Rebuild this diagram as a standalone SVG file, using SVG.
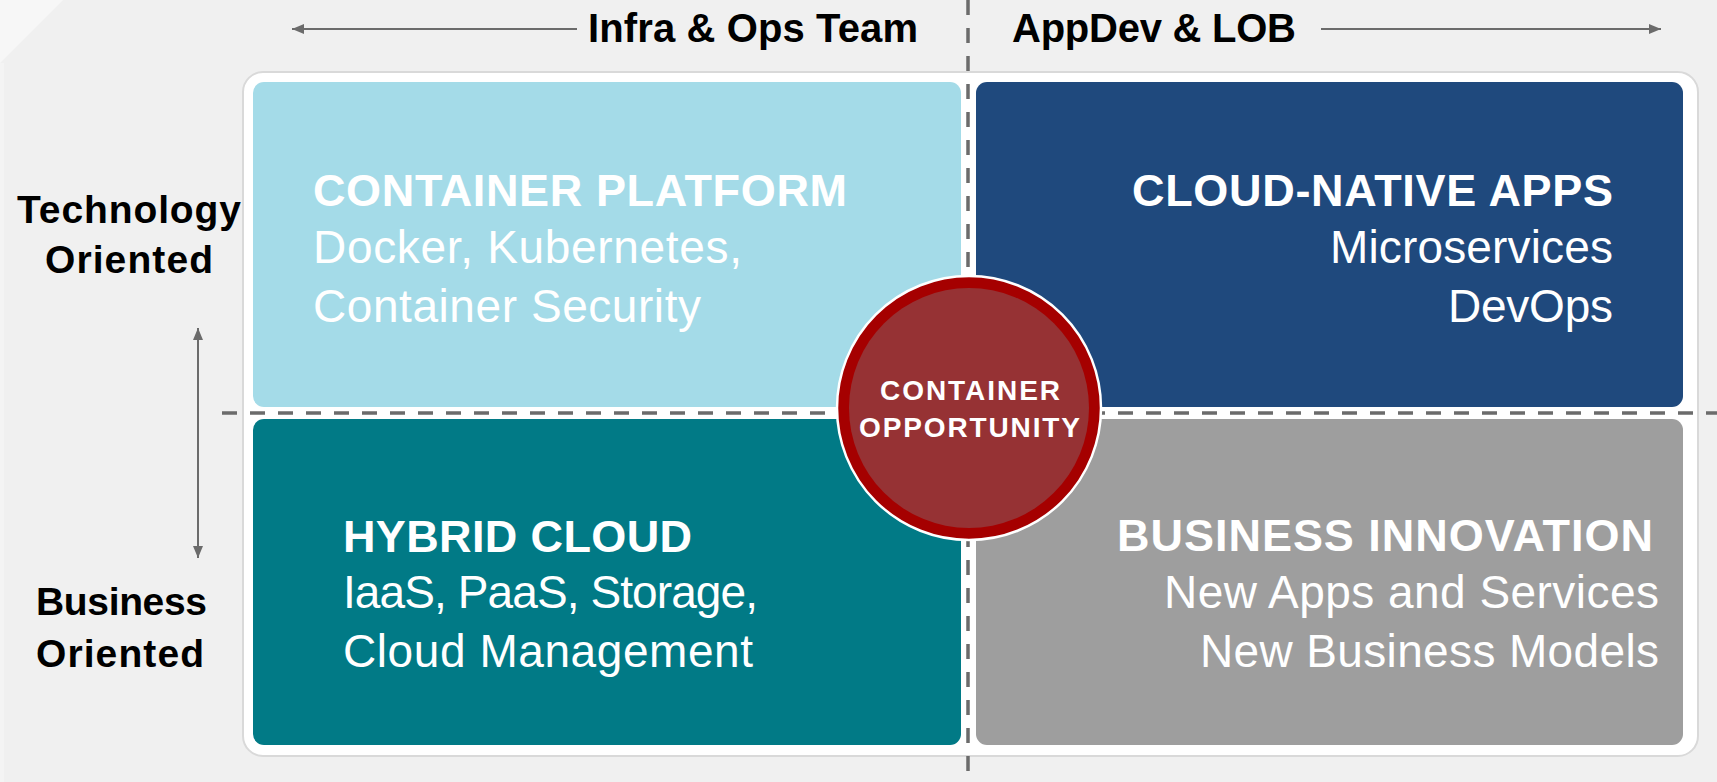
<svg xmlns="http://www.w3.org/2000/svg" width="1717" height="782" viewBox="0 0 1717 782">
  <defs>
    <marker id="arr" markerUnits="userSpaceOnUse" markerWidth="13" markerHeight="10" refX="12" refY="5" orient="auto-start-reverse">
      <path d="M0,0 L12,5 L0,10 Z" fill="#6b6b6b"/>
    </marker>
    <style>
      .hdr { font-family: "Liberation Sans", Arial, sans-serif; font-weight: bold; fill: #000; }
      .ttl { font-family: "Liberation Sans", Arial, sans-serif; font-weight: bold; font-size: 45px; fill: #fff; }
      .sub { font-family: "Liberation Sans", Arial, sans-serif; font-size: 46px; fill: #fff; }
      .ctr { font-family: "Liberation Sans", Arial, sans-serif; font-weight: bold; font-size: 28px; fill: #fff; }
      .axis { stroke: #6b6b6b; stroke-width: 2; fill: none; }
      .dash { stroke: #6b6b6b; stroke-width: 3.5; stroke-dasharray: 15 13; fill: none; }
    </style>
  </defs>

  <!-- background -->
  <rect x="0" y="0" width="1717" height="782" fill="#f0f0f0"/>
  <polygon points="0,0 63,0 0,63" fill="#f7f7f7"/>
  <rect x="0" y="63" width="4" height="719" fill="#f4f4f4"/>

  <!-- outer frame -->
  <rect x="243" y="72" width="1455" height="684" rx="20" ry="20" fill="#ffffff" stroke="#d9d9d9" stroke-width="2"/>

  <!-- axis labels -->
  <g id="label-infra">
    <text class="hdr" x="588" y="42" font-size="40" textLength="330">Infra &amp; Ops Team</text>
  </g>
  <g id="label-appdev">
    <text class="hdr" x="1012" y="42" font-size="40" textLength="284">AppDev &amp; LOB</text>
  </g>
  <g id="label-technology">
    <text class="hdr" x="17" y="223" font-size="39" textLength="224">Technology</text>
    <text class="hdr" x="45" y="273" font-size="39" textLength="168">Oriented</text>
  </g>
  <g id="label-business">
    <text class="hdr" x="36" y="615" font-size="39" textLength="171">Business</text>
    <text class="hdr" x="36" y="667" font-size="39" textLength="168">Oriented</text>
  </g>

  <!-- quadrants -->
  <g id="q-container-platform">
    <rect x="253" y="82" width="708" height="325" rx="11" ry="11" fill="#a4dbe8"/>
    <text class="ttl" x="313" y="206" textLength="534">CONTAINER PLATFORM</text>
    <text class="sub" x="313" y="263" textLength="429">Docker, Kubernetes,</text>
    <text class="sub" x="313" y="322" textLength="388">Container Security</text>
  </g>
  <g id="q-cloud-native">
    <rect x="976" y="82" width="707" height="325" rx="11" ry="11" fill="#1f497d"/>
    <text class="ttl" x="1132" y="206" textLength="481">CLOUD-NATIVE APPS</text>
    <text class="sub" x="1330" y="263" textLength="283">Microservices</text>
    <text class="sub" x="1448" y="322" textLength="165">DevOps</text>
  </g>
  <g id="q-hybrid-cloud">
    <rect x="253" y="419" width="708" height="326" rx="11" ry="11" fill="#017a86"/>
    <text class="ttl" x="343" y="552" textLength="349">HYBRID CLOUD</text>
    <text class="sub" x="343" y="608" textLength="415">IaaS, PaaS, Storage,</text>
    <text class="sub" x="343" y="667" textLength="410">Cloud Management</text>
  </g>
  <g id="q-business-innovation">
    <rect x="976" y="419" width="707" height="326" rx="11" ry="11" fill="#9e9e9e"/>
    <text class="ttl" x="1117" y="551" textLength="536">BUSINESS INNOVATION</text>
    <text class="sub" x="1164" y="608" textLength="495">New Apps and Services</text>
    <text class="sub" x="1200" y="667" textLength="459">New Business Models</text>
  </g>

  <!-- connectors: axes and divider lines -->
  <g id="connectors">
    <line class="axis" x1="577" y1="29" x2="292" y2="29" marker-end="url(#arr)"/>
    <line class="axis" x1="1321" y1="29" x2="1661" y2="29" marker-end="url(#arr)"/>
    <line class="axis" x1="198" y1="328" x2="198" y2="558" marker-start="url(#arr)" marker-end="url(#arr)"/>
    <line class="dash" x1="968" y1="0" x2="968" y2="782"/>
    <line class="dash" x1="222" y1="413" x2="1717" y2="413"/>
  </g>

  <!-- center circle -->
  <g id="container-opportunity">
    <circle cx="969" cy="408" r="132" fill="#a50000" stroke="#ffffff" stroke-width="2.5"/>
    <circle cx="969" cy="408" r="120" fill="#963234"/>
    <text class="ctr" x="880" y="400" textLength="180">CONTAINER</text>
    <text class="ctr" x="859" y="437" textLength="221">OPPORTUNITY</text>
  </g>
</svg>
